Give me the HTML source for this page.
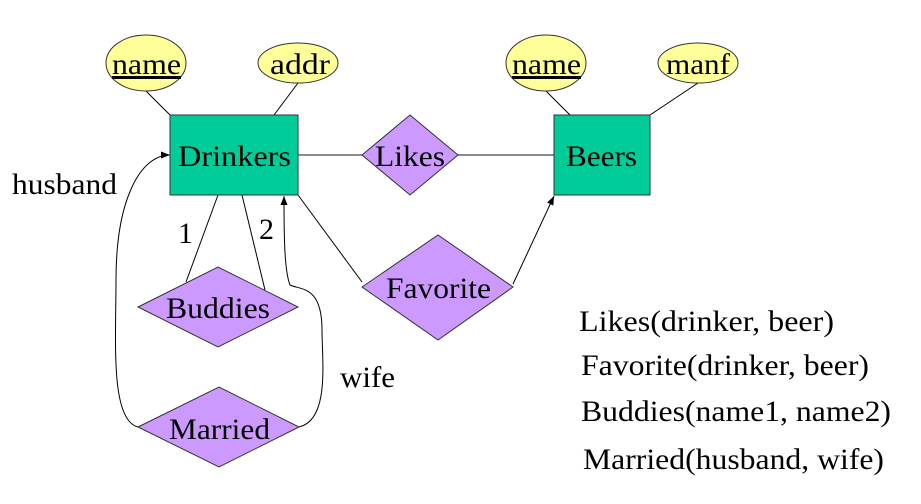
<!DOCTYPE html>
<html><head><meta charset="utf-8"><style>body{margin:0;background:#fff}</style></head><body>
<svg width="921" height="499" viewBox="0 0 921 499" xmlns="http://www.w3.org/2000/svg" font-family="Liberation Serif, serif">
<defs><marker id="a" markerWidth="10" markerHeight="10" refX="9" refY="5" orient="auto" markerUnits="userSpaceOnUse"><path d="M0,1.5 L9,5 L0,8.5z" fill="#000"/></marker></defs>
<g stroke="#000" stroke-width="1" fill="none">
<line x1="146" y1="91" x2="170" y2="115"/>
<line x1="298" y1="83" x2="274" y2="115"/>
<line x1="546" y1="91" x2="570" y2="115"/>
<line x1="698" y1="83" x2="650" y2="115"/>
<line x1="298" y1="155" x2="362" y2="155" stroke="#666" stroke-width="1.5"/>
<line x1="458" y1="155" x2="554" y2="155" stroke="#666" stroke-width="1.5"/>
<line x1="218" y1="195" x2="186" y2="282"/>
<line x1="242" y1="195" x2="265" y2="290"/>
<line x1="298" y1="195" x2="362" y2="282"/>
<line x1="513" y1="284" x2="554" y2="196" marker-end="url(#a)"/>
<path d="M138,427 C110,420 116,340 116,280 C116,200 140,155 170,155" marker-end="url(#a)"/>
<path d="M299,427 C330,420 322,360 322,330 C322,285 300,290 290,285 C284,270 284,230 284,196" marker-end="url(#a)"/>
</g>
<g stroke="#333" stroke-width="1">
<ellipse cx="146" cy="63" rx="40" ry="28" fill="#ffff99"/>
<ellipse cx="298" cy="63" rx="40" ry="20" fill="#ffff99"/>
<ellipse cx="546" cy="63" rx="40" ry="28" fill="#ffff99"/>
<ellipse cx="698" cy="63" rx="40" ry="20" fill="#ffff99"/>
<rect x="170" y="115" width="128" height="80" fill="#00cc99"/>
<rect x="554" y="115" width="96" height="80" fill="#00cc99"/>
<polygon points="362,155 410,115 458,155 410,195" fill="#cc99ff"/>
<polygon points="362,287 438,235 513,287 438,340" fill="#cc99ff"/>
<polygon points="138,307 218,267 298,307 218,347" fill="#cc99ff"/>
<polygon points="138,427 219,387 299,427 219,467" fill="#cc99ff"/>
</g>
<g font-size="30" fill="#000" lengthAdjust="spacingAndGlyphs">
<text x="112" y="74" textLength="69" lengthAdjust="spacingAndGlyphs" text-decoration="underline">name</text>
<text x="270" y="74" textLength="60" lengthAdjust="spacingAndGlyphs">addr</text>
<text x="512" y="74" textLength="69" lengthAdjust="spacingAndGlyphs" text-decoration="underline">name</text>
<text x="666" y="74" textLength="64" lengthAdjust="spacingAndGlyphs">manf</text>
<text x="178" y="166" textLength="113" lengthAdjust="spacingAndGlyphs">Drinkers</text>
<text x="566" y="166" textLength="71" lengthAdjust="spacingAndGlyphs">Beers</text>
<text x="375" y="166" textLength="70" lengthAdjust="spacingAndGlyphs">Likes</text>
<text x="386" y="298" textLength="105" lengthAdjust="spacingAndGlyphs">Favorite</text>
<text x="166" y="318" textLength="104" lengthAdjust="spacingAndGlyphs">Buddies</text>
<text x="169" y="439" textLength="101" lengthAdjust="spacingAndGlyphs">Married</text>
<text x="12" y="194" textLength="105" lengthAdjust="spacingAndGlyphs">husband</text>
<text x="340" y="387" textLength="55" lengthAdjust="spacingAndGlyphs">wife</text>
<text x="178" y="243">1</text>
<text x="259" y="239">2</text>
<text x="579" y="331" textLength="255" lengthAdjust="spacingAndGlyphs">Likes(drinker, beer)</text>
<text x="581" y="375" textLength="288" lengthAdjust="spacingAndGlyphs">Favorite(drinker, beer)</text>
<text x="581" y="421" textLength="310" lengthAdjust="spacingAndGlyphs">Buddies(name1, name2)</text>
<text x="583" y="469" textLength="301" lengthAdjust="spacingAndGlyphs">Married(husband, wife)</text>
</g>
</svg>
</body></html>
